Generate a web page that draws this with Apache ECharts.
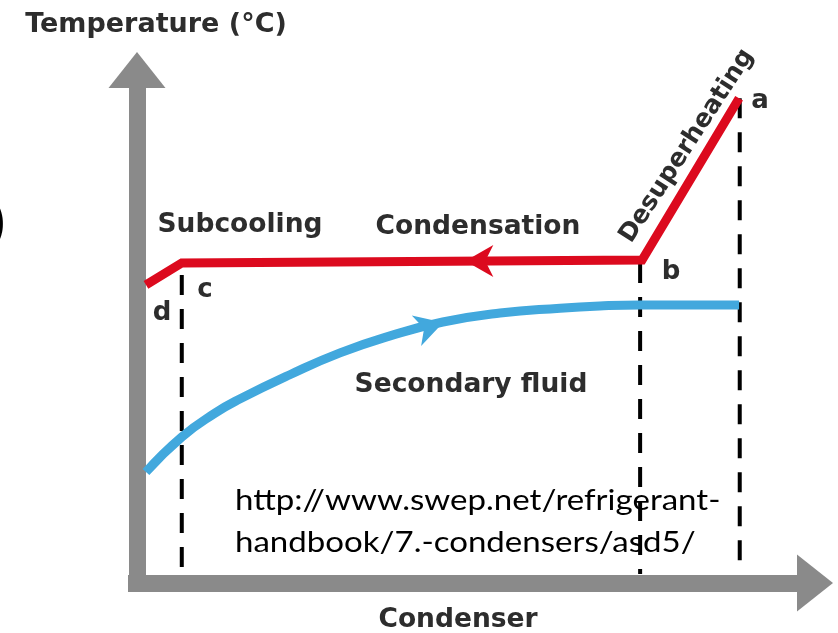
<!DOCTYPE html>
<html>
<head>
<meta charset="utf-8">
<title>Condenser temperature profile</title>
<script src="https://cdn.jsdelivr.net/npm/echarts@6/dist/echarts.min.js"></script>
<style>
  html, body { margin: 0; padding: 0; background: #fff; }
  #chart { width: 838px; height: 633px; }
</style>
</head>
<body>
<div id="chart"></div>
<script>
// refrigerant path d -> c -> b -> a (x along condenser, y temperature, arbitrary units)
var refrigerant = [[0, 59.5], [5.5, 64.0], [76.2, 64.6], [91.1, 97.9]];
// secondary fluid curve
var secondary = [
  [0, 21.0], [5.5, 28.2], [10.6, 33.1], [14.4, 36.0], [22.1, 41.0], [29.8, 45.5], [37.5, 49.0],
  [45.6, 51.85], [54.4, 53.7], [63.6, 54.7], [69.7, 55.15], [75.9, 55.35], [91.1, 55.35]
];
// dashed drop lines at c, b, a
var dropX = [5.5, 75.9, 91.2];
var dropTop = [61.5, 64.0, 97.9];
// flow direction arrows [x, y, angle]
var redArrow = [51.2, 64.4, 90];
var blueArrow = [43.6, 50.9, -73];

var xMin = -2.76, xMax = 102.76;
var yMin = -3.7, yMax = 103.7;

var RED = '#dc0a1e';
var BLUE = '#42a8dd';
var GREY = '#8a8a8a';
var TEXT = '#2d2d2d';
var arrowPath = 'path://M16,0L32,28L16,20L0,28Z';

var myChart = echarts.init(document.getElementById('chart'));

var series = [];
dropX.forEach(function (x, i) {
  series.push({
    type: 'line',
    data: [[x, dropTop[i]], [x, 0]],
    symbol: 'none',
    silent: true,
    z: 1,
    lineStyle: { color: '#000', width: 4, type: [20, 14] }
  });
});
series.push({
  name: 'Secondary fluid',
  type: 'line',
  data: secondary,
  smooth: 0.5,
  symbol: 'none',
  z: 3,
  lineStyle: { color: BLUE, width: 9, cap: 'butt' }
});
series.push({
  name: 'Refrigerant',
  type: 'line',
  data: refrigerant,
  symbol: 'none',
  z: 4,
  lineStyle: { color: RED, width: 9, join: 'miter', cap: 'butt' }
});
series.push({
  type: 'scatter',
  data: [[redArrow[0], redArrow[1]]],
  symbol: arrowPath,
  symbolSize: [32, 28],
  symbolRotate: redArrow[2],
  itemStyle: { color: RED, opacity: 1 },
  z: 5
});
series.push({
  type: 'scatter',
  data: [[blueArrow[0], blueArrow[1]]],
  symbol: arrowPath,
  symbolSize: [32, 28],
  symbolRotate: blueArrow[2],
  itemStyle: { color: BLUE, opacity: 1 },
  z: 5
});

function label(text, x, y, size, extra) {
  var el = {
    type: 'text', x: x, y: y, z: 10,
    style: {
      text: text, font: 'bold ' + size + 'px "DejaVu Sans"', fill: TEXT,
      textAlign: 'center', textVerticalAlign: 'middle'
    }
  };
  return Object.assign(el, extra || {});
}

function urlLine(text, y) {
  return {
    type: 'text', x: 235, y: y, z: 10, scaleX: 1.18,
    style: { text: text, font: '28px Lato', fill: '#000', textAlign: 'left', textVerticalAlign: 'middle' }
  };
}

var axisLineStyle = { color: GREY, width: 17, cap: 'butt' };

var option = {
  animation: false,
  grid: { left: 128, right: 23, top: 70, bottom: 41 },
  xAxis: {
    type: 'value', min: xMin, max: xMax, offset: -9,
    axisLine: {
      onZero: false, lineStyle: axisLineStyle,
      symbol: ['none', 'triangle'], symbolSize: [57, 36]
    },
    axisTick: { show: false }, axisLabel: { show: false }, splitLine: { show: false }
  },
  yAxis: {
    type: 'value', min: yMin, max: yMax, offset: -9,
    axisLine: {
      show: true, onZero: false, lineStyle: axisLineStyle,
      symbol: ['none', 'triangle'], symbolSize: [57, 36]
    },
    axisTick: { show: false }, axisLabel: { show: false }, splitLine: { show: false }
  },
  series: series,
  graphic: [
    label('Temperature (°C)', 156, 25, 27),
    label('Subcooling', 240, 225, 26.5),
    label('Condensation', 478, 227, 26.5),
    label('Secondary fluid', 471, 385, 26.5),
    label('Condenser', 458, 620, 26.5),
    label('a', 760, 101, 26),
    label('b', 671, 272, 26),
    label('c', 205, 290, 26),
    label('d', 162, 313, 26),
    label('Desuperheating', 687, 146, 25, { rotation: 57 * Math.PI / 180 }),
    urlLine('http://www.swep.net/refrigerant-', 501),
    urlLine('handbook/7.-condensers/asd5/', 543),
    {
      type: 'text', x: 5, y: 224, z: 10,
      style: { text: ')', font: '48px Lato', fill: '#000', textAlign: 'right', textVerticalAlign: 'middle' }
    }
  ]
};

option && myChart.setOption(option);
</script>
</body>
</html>
